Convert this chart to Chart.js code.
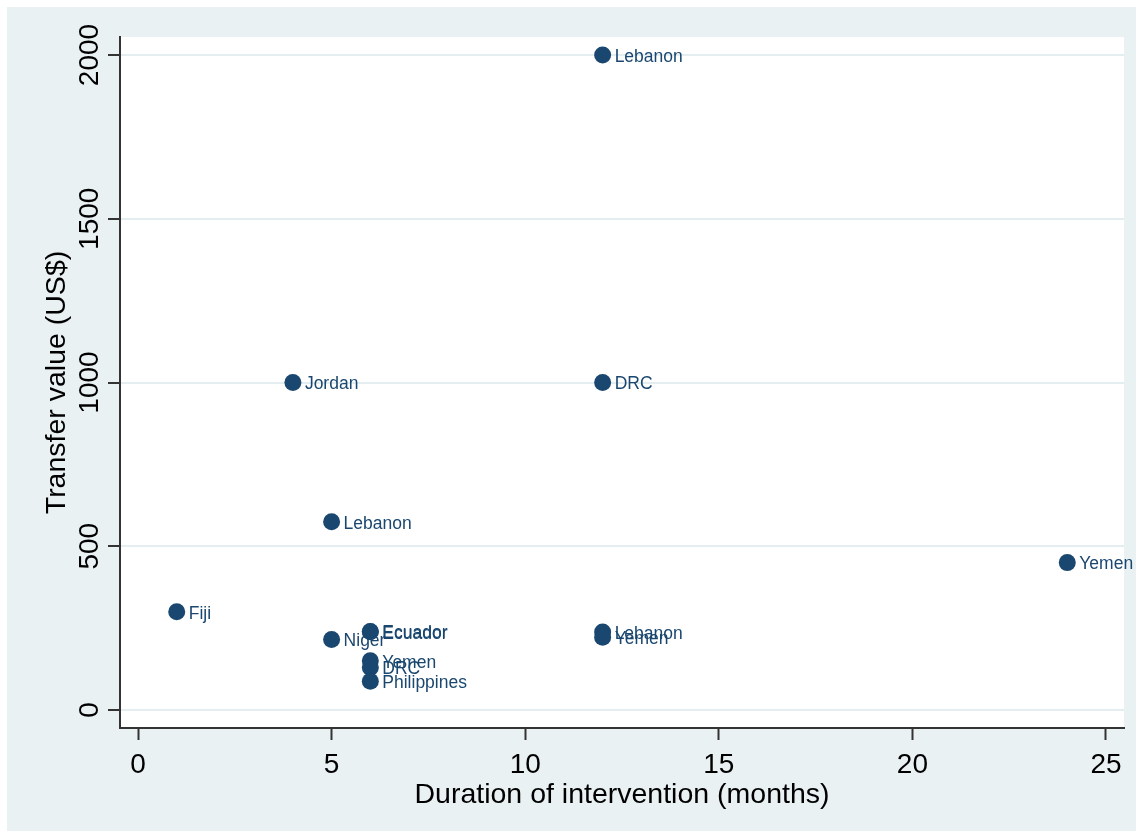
<!DOCTYPE html>
<html>
<head>
<meta charset="utf-8">
<script src="https://cdn.jsdelivr.net/npm/chart.js@4"></script>
<style>
  html, body { margin: 0; padding: 0; background: #ffffff; }
  #wrap { width: 1143px; height: 838px; }
</style>
</head>
<body>
<div id="wrap"><canvas id="scatterChart" width="1143" height="838"></canvas></div>
<script>
// Transfer value vs duration of intervention

const countries = ['Lebanon', 'Jordan', 'DRC', 'Lebanon', 'Yemen', 'Fiji', 'Ecuador', 'Ecuador',
                   'Niger', 'Lebanon', 'Yemen', 'Yemen', 'DRC', 'Philippines'];
const durations = [12, 4, 12, 5, 24, 1, 6, 6, 5, 12, 12, 6, 6, 6];
const transferValues = [2000, 1000, 1000, 575, 450, 300, 240, 239, 215, 238, 222, 150, 130, 88];

const xTicks = [0, 5, 10, 15, 20, 25];
const yTicks = [0, 500, 1000, 1500, 2000];

const navy = '#1a476f';
const panelBg = '#eaf1f3';
const axisFont = '"Liberation Sans", Arial, sans-serif';

const points = durations.map((d, i) => ({ x: d, y: transferValues[i] }));

// background panel + white plot region
const backgroundPlugin = {
    id: 'stataBackground',
    beforeDraw(chart) {
        const ctx = chart.ctx;
        const a = chart.chartArea;
        ctx.save();
        ctx.fillStyle = '#ffffff';
        ctx.fillRect(0, 0, chart.width, chart.height);
        ctx.fillStyle = panelBg;
        ctx.fillRect(7, 7, chart.width - 14, chart.height - 14);
        ctx.fillStyle = '#ffffff';
        ctx.fillRect(a.left, a.top, a.right - a.left, a.bottom - a.top);
        ctx.restore();
    }
};

// marker labels, tick labels and axis titles
const textPlugin = {
    id: 'stataText',
    afterDatasetsDraw(chart) {
        const ctx = chart.ctx;
        const meta = chart.getDatasetMeta(0);
        ctx.save();
        ctx.font = '17.5px ' + axisFont;
        ctx.fillStyle = navy;
        ctx.textAlign = 'left';
        ctx.textBaseline = 'middle';
        meta.data.forEach((pt, i) => {
            ctx.fillText(countries[i], pt.x + 12, pt.y + 2);
        });
        ctx.restore();
    },
    afterDraw(chart) {
        const ctx = chart.ctx;
        const xs = chart.scales.x;
        const ys = chart.scales.y;
        const a = chart.chartArea;
        ctx.save();
        ctx.fillStyle = '#000000';
        ctx.font = '28px ' + axisFont;
        ctx.textBaseline = 'alphabetic';

        // x tick labels
        ctx.textAlign = 'center';
        xTicks.forEach(v => {
            ctx.fillText(String(v), xs.getPixelForValue(v), 773);
        });
        // x title
        ctx.font = '28.5px ' + axisFont;
        ctx.fillText('Duration of intervention (months)', (a.left + a.right) / 2, 803);

        // y tick labels, rotated
        ctx.font = '28px ' + axisFont;
        yTicks.forEach(v => {
            ctx.save();
            ctx.translate(98, ys.getPixelForValue(v));
            ctx.rotate(-Math.PI / 2);
            ctx.fillText(String(v), 0, 0);
            ctx.restore();
        });
        // y title
        ctx.font = '28.5px ' + axisFont;
        ctx.save();
        ctx.translate(65, (a.top + a.bottom) / 2);
        ctx.rotate(-Math.PI / 2);
        ctx.fillText('Transfer value (US$)', 0, 0);
        ctx.restore();
        ctx.restore();
    }
};

new Chart(document.getElementById('scatterChart'), {
    type: 'scatter',
    data: {
        datasets: [{
            data: points,
            backgroundColor: navy,
            borderColor: navy,
            borderWidth: 0,
            pointRadius: 8.5,
            pointHoverRadius: 8.5
        }]
    },
    options: {
        responsive: false,
        animation: false,
        devicePixelRatio: 1,
        layout: {
            padding: { top: 37, right: 19, left: 0, bottom: 0 }
        },
        plugins: {
            legend: { display: false },
            tooltip: { enabled: false }
        },
        scales: {
            x: {
                type: 'linear',
                min: -0.465,
                max: 25.465,
                afterBuildTicks: s => { s.ticks = xTicks.map(v => ({ value: v })); },
                afterFit: s => { s.height = 110; },
                ticks: { display: false },
                grid: {
                    drawOnChartArea: false,
                    drawTicks: true,
                    tickLength: 12,
                    tickColor: '#333333',
                    tickWidth: 2
                },
                border: { color: '#333333', width: 2 }
            },
            y: {
                type: 'linear',
                min: -55,
                max: 2055,
                afterBuildTicks: s => { s.ticks = yTicks.map(v => ({ value: v })); },
                afterFit: s => { s.width = 120; },
                ticks: { display: false },
                grid: {
                    color: '#e4eef0',
                    lineWidth: 2,
                    drawTicks: true,
                    tickLength: 12,
                    tickColor: '#333333',
                    tickWidth: 2
                },
                border: { color: '#333333', width: 2 }
            }
        }
    },
    plugins: [backgroundPlugin, textPlugin]
});
</script>
</body>
</html>
